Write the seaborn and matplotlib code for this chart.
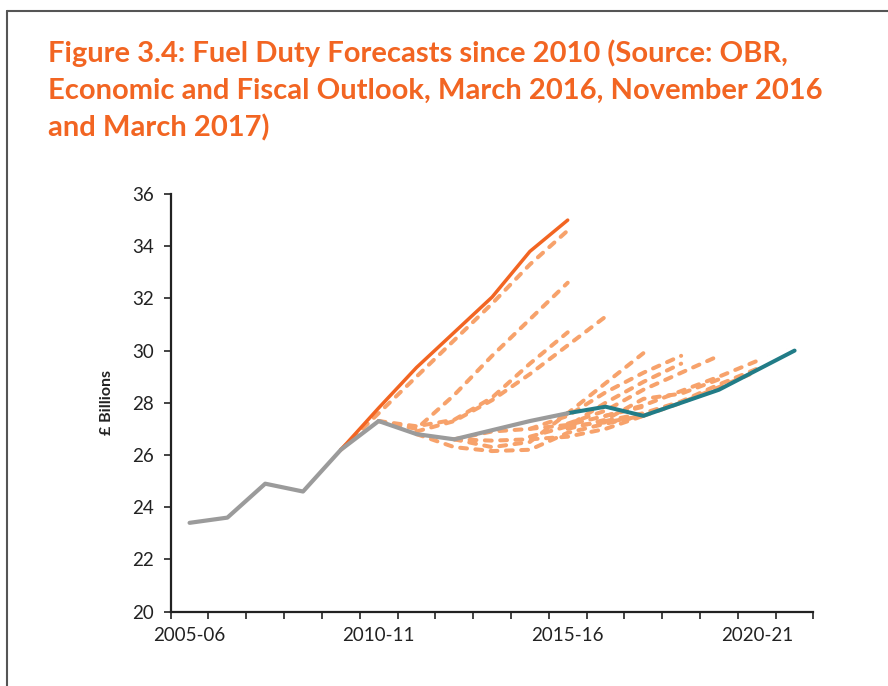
import numpy as np
import pandas as pd
import matplotlib
matplotlib.use("Agg")
import matplotlib.pyplot as plt
from matplotlib.lines import Line2D
import seaborn as sns

# ---------------- data ----------------
years = ["2005-06", "2006-07", "2007-08", "2008-09", "2009-10", "2010-11",
         "2011-12", "2012-13", "2013-14", "2014-15", "2015-16", "2016-17",
         "2017-18", "2018-19", "2019-20", "2020-21", "2021-22"]
tick_labels = ["2005-06", "2010-11", "2015-16", "2020-21"]

outturn_start = 0
outturn = [23.4, 23.6, 24.9, 24.6, 26.2, 27.3, 26.8, 26.6, 26.95, 27.3, 27.6]

latest_start = 10
latest = [27.6, 27.85, 27.5, 28.0, 28.5, 29.25, 30.0]

first_start = 4
first_forecast = [26.2, 27.8, 29.35, 30.7, 32.05, 33.8, 35.0]

# earlier forecasts (start index, values)
fc_a = (4, [26.2, 27.6, 29.0, 30.4, 31.8, 33.3, 34.6])
fc_b = (5, [27.3, 27.0, 28.3, 29.8, 31.2, 32.6])
fc_c = (5, [27.3, 27.1, 27.35, 28.2, 29.5, 30.7])
fc_d = (6, [26.9, 27.3, 28.1, 29.1, 30.2, 31.3])
fc_e = (7, [26.6, 26.3, 26.5, 27.6, 28.75, 29.9])
fc_f = (9, [27.0, 27.5, 28.4, 29.15, 29.8])
fc_g = (9, [26.7, 27.1, 28.0, 28.8, 29.5])
fc_h = (10, [27.2, 27.7, 28.5, 29.15, 29.8])
fc_i = (11, [27.5, 27.9, 28.45, 29.0, 29.6])
fc_j = (11, [27.3, 27.6, 28.05, 28.7, 29.3])
fc_k = (10, [27.0, 27.35, 28.15, 28.35, 28.9])
fc_l = (10, [27.1, 27.25, 27.5, 28.0, 28.6, 29.2])
fc_low1 = (6, [26.8, 26.3, 26.15, 26.2, 26.85, 27.2, 27.5])
fc_low2 = (7, [26.6, 26.55, 26.6, 26.7, 27.0, 27.5])
fc_mid = (7, [26.6, 26.9, 27.0, 27.15, 27.5, 27.85])
dashed_forecasts = [fc_a, fc_b, fc_c, fc_d, fc_e, fc_f, fc_g, fc_h, fc_i,
                    fc_j, fc_k, fc_l, fc_low1, fc_low2, fc_mid]

title_lines = ["Figure 3.4: Fuel Duty Forecasts since 2010 (Source: OBR,",
               "Economic and Fiscal Outlook, March 2016, November 2016",
               "and March 2017)"]

# ---------------- style ----------------
sns.set_theme(style="white")
plt.rcParams["font.family"] = ["Lato", "DejaVu Sans"]

ORANGE = "#F26522"
LIGHT = "#F7A26B"
GREY = "#9B9B9B"
TEAL = "#217C87"
TXT = "#222222"

fig = plt.figure(figsize=(8.88, 6.86), dpi=100)
ax = fig.add_axes([0.1922, 0.1085, 0.7239, 0.6087])


def series_df(start, vals):
    idx = list(range(start, start + len(vals)))
    return pd.DataFrame({"x": idx, "y": vals})


for start, vals in dashed_forecasts:
    d = series_df(start, vals)
    sns.lineplot(data=d, x="x", y="y", ax=ax, color=LIGHT, lw=2.9,
                 linestyle=(0, (1.7, 2.1)), dash_capstyle="round",
                 solid_capstyle="round", zorder=2)

d = series_df(first_start, first_forecast)
sns.lineplot(data=d, x="x", y="y", ax=ax, color=ORANGE, lw=2.5,
             solid_capstyle="round", zorder=3)
d = series_df(latest_start, latest)
sns.lineplot(data=d, x="x", y="y", ax=ax, color=TEAL, lw=2.9,
             solid_capstyle="round", zorder=4)
d = series_df(outturn_start, outturn)
sns.lineplot(data=d, x="x", y="y", ax=ax, color=GREY, lw=3.0,
             solid_capstyle="round", zorder=5)

ax.set_xlim(-0.5, len(years) - 0.5)
ax.set_ylim(20, 36)
ax.set_yticks(np.arange(20, 37, 2))
ax.set_yticklabels([str(v) for v in range(20, 37, 2)])
pos = [years.index(t) for t in tick_labels]
ax.set_xticks(pos)
ax.set_xticklabels(tick_labels)
ax.set_xticks(np.arange(-0.5, len(years)), minor=True)
ax.tick_params(axis="x", which="major", length=0, pad=11, labelsize=13.5,
               colors=TXT)
ax.tick_params(axis="x", which="minor", length=5, width=1.2, color=TXT,
               bottom=True, direction="out")
ax.tick_params(axis="y", length=5, width=1.2, color=TXT, labelsize=13.5,
               labelcolor=TXT, pad=7, left=True, direction="out")
ax.set_xlabel("")
ax.set_ylabel("£ Billions", fontsize=11.5, fontweight="bold", color=TXT,
              labelpad=13)
for s in ["top", "right"]:
    ax.spines[s].set_visible(False)
for s in ["left", "bottom"]:
    ax.spines[s].set_color(TXT)
    ax.spines[s].set_linewidth(1.6)

# title
for k, line in enumerate(title_lines):
    fig.text(48 / 888, 1 - (62 + 37 * k) / 686, line, fontsize=21,
             fontweight="bold", color=ORANGE, va="baseline", ha="left")

# frame
fig.add_artist(Line2D([7 / 888, 1.0], [1 - 11 / 686, 1 - 11 / 686],
                      transform=fig.transFigure, color="#555555", lw=1.5))
fig.add_artist(Line2D([7 / 888, 7 / 888], [0, 1 - 11 / 686],
                      transform=fig.transFigure, color="#555555", lw=1.5))

fig.savefig("out.png", dpi=100)
